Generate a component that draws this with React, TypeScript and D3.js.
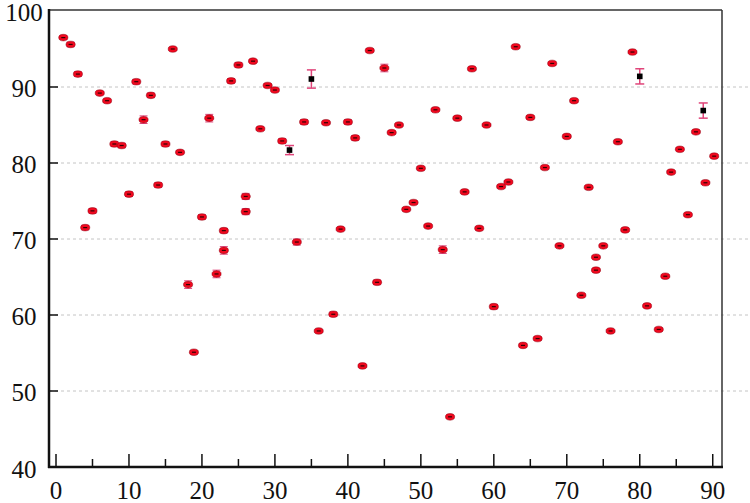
import React from "react";
import * as d3 from "d3";

const redX = [1, 2, 3, 4, 5, 6, 7, 8, 9, 10, 11, 12, 13, 14, 15, 16, 17, 18.1, 18.9, 20, 21, 22, 23, 23, 24, 25, 26, 26, 27, 28, 29, 30, 31, 33, 34, 36, 37, 38, 39, 40, 41, 42, 43, 44, 45, 46, 47, 48, 49, 50, 51, 52, 53, 54, 55, 56, 57, 58, 59, 60, 61, 62, 63, 64, 65, 66, 67, 68, 69, 70, 71, 72, 73, 74, 74, 75, 76, 77, 78, 79, 81, 82.6, 83.5, 84.3, 85.5, 86.6, 87.7, 89, 90.2];
const redY = [96.5, 95.6, 91.7, 71.5, 73.7, 89.2, 88.2, 82.5, 82.3, 75.9, 90.7, 85.7, 88.9, 77.1, 82.5, 95.0, 81.4, 64.0, 55.1, 72.9, 85.9, 65.4, 71.1, 68.5, 90.8, 92.9, 75.6, 73.6, 93.4, 84.5, 90.2, 89.6, 82.9, 69.6, 85.4, 57.9, 85.3, 60.1, 71.3, 85.4, 83.3, 53.3, 94.8, 64.3, 92.5, 84.0, 85.0, 73.9, 74.8, 79.3, 71.7, 87.0, 68.6, 46.6, 85.9, 76.2, 92.4, 71.4, 85.0, 61.1, 76.9, 77.5, 95.3, 56.0, 86.0, 56.9, 79.4, 93.1, 69.1, 83.5, 88.2, 62.6, 76.8, 67.6, 65.9, 69.1, 57.9, 82.8, 71.2, 94.6, 61.2, 58.1, 65.1, 78.8, 81.8, 73.2, 84.1, 77.4, 80.9];
const redErr = [0.2, 0.3, 0.3, 0.3, 0.3, 0.2, 0.2, 0.3, 0.3, 0.3, 0.3, 0.5, 0.3, 0.3, 0.3, 0.2, 0.2, 0.5, 0.2, 0.3, 0.5, 0.5, 0.3, 0.5, 0.3, 0.3, 0.4, 0.4, 0.2, 0.2, 0.2, 0.2, 0.3, 0.4, 0.3, 0.2, 0.2, 0.3, 0.2, 0.3, 0.3, 0.2, 0.2, 0.3, 0.5, 0.2, 0.2, 0.2, 0.2, 0.2, 0.2, 0.2, 0.5, 0.2, 0.2, 0.2, 0.2, 0.2, 0.2, 0.3, 0.2, 0.2, 0.2, 0.2, 0.2, 0.2, 0.2, 0.2, 0.2, 0.2, 0.2, 0.2, 0.2, 0.2, 0.2, 0.2, 0.2, 0.2, 0.2, 0.2, 0.2, 0.2, 0.2, 0.2, 0.2, 0.2, 0.2, 0.2, 0.2];

const blackX = [32, 35, 80, 88.7];
const blackY = [81.7, 91.05, 91.4, 86.9];
const blackErr = [0.6, 1.2, 1.0, 1.0];

const xTicks = [0, 10, 20, 30, 40, 50, 60, 70, 80, 90];
const xMinorTicks = [5, 15, 25, 35, 45, 55, 65, 75, 85];
const yTicks = [40, 50, 60, 70, 80, 90, 100];
const gridValues = [50, 60, 70, 80, 90];

const W = 750;
const H = 503;
const L = 49, R = 722, T = 11, B = 467;

export default function App() {
  const x = d3.scaleLinear().domain([-0.96, 91.27]).range([L, R]);
  const y = d3.scaleLinear().domain([40, 100]).range([B, T]);
  const font = "Liberation Serif, DejaVu Serif, Times New Roman, serif";
  const pink = "#e0457a";

  return (
    <svg width={W} height={H} style={{ position: "absolute", left: 0, top: 0, background: "#fff" }}>
      <rect x={0} y={0} width={W} height={H} fill="#fff" />
      {gridValues.map((v) => (
        <line key={"g" + v} x1={L} x2={W} y1={y(v)} y2={y(v)} stroke="#c4c4c4" strokeWidth={1} strokeDasharray="3,3" />
      ))}
      {/* frame */}
      <line x1={L} x2={R} y1={T - 1} y2={T - 1} stroke="#333" strokeWidth={1.5} />
      <line x1={R} x2={R} y1={T - 1} y2={B} stroke="#333" strokeWidth={1.5} />
      <line x1={L} x2={L} y1={T - 2} y2={B + 1} stroke="#111" strokeWidth={2.5} />
      <line x1={L - 1} x2={R + 1} y1={B} y2={B} stroke="#111" strokeWidth={2.5} />
      {/* x ticks */}
      {xTicks.map((v) => (
        <g key={"xt" + v}>
          <line x1={x(v)} x2={x(v)} y1={B} y2={B - 13} stroke="#111" strokeWidth={1.5} />
          <text x={x(v)} y={490} textAnchor="middle" dominantBaseline="central" style={{ fontFamily: font }} fontSize={25} fill="#111">
            {v}
          </text>
        </g>
      ))}
      {xMinorTicks.map((v) => (
        <line key={"xm" + v} x1={x(v)} x2={x(v)} y1={B} y2={B - 8} stroke="#111" strokeWidth={1.5} />
      ))}
      {/* y ticks */}
      {yTicks.map((v) => (
        <g key={"yt" + v}>
          {v > 40 && v < 100 && <line x1={L} x2={L + 9} y1={y(v)} y2={y(v)} stroke="#111" strokeWidth={1.5} />}
          <text x={24} y={v === 40 ? 469 : y(v) + 1} textAnchor="middle" dominantBaseline="central" style={{ fontFamily: font }} fontSize={25} fill="#111">
            {v}
          </text>
        </g>
      ))}
      {/* red points */}
      {redX.map((vx, i) => {
        const cx = x(vx);
        const cy = y(redY[i]);
        const e1 = y(redY[i] + redErr[i]);
        const e2 = y(redY[i] - redErr[i]);
        return (
          <g key={"r" + i}>
            <line x1={cx} x2={cx} y1={e1} y2={e2} stroke={pink} strokeWidth={1} />
            <line x1={cx - 4} x2={cx + 4} y1={e1} y2={e1} stroke={pink} strokeWidth={1} />
            <line x1={cx - 4} x2={cx + 4} y1={e2} y2={e2} stroke={pink} strokeWidth={1} />
            <ellipse cx={cx} cy={cy} rx={4.6} ry={3.3} fill="#f0081e" stroke="#8a0010" strokeWidth={0.5} />
            <rect x={cx - 2} y={cy - 0.6} width={4} height={1.2} fill="#300" />
          </g>
        );
      })}
      {/* black squares with error bars */}
      {blackX.map((vx, i) => {
        const cx = x(vx);
        const cy = y(blackY[i]);
        const e1 = y(blackY[i] + blackErr[i]);
        const e2 = y(blackY[i] - blackErr[i]);
        return (
          <g key={"b" + i}>
            <line x1={cx} x2={cx} y1={e1} y2={e2} stroke={pink} strokeWidth={1.5} />
            <line x1={cx - 4.5} x2={cx + 4.5} y1={e1} y2={e1} stroke={pink} strokeWidth={1.5} />
            <line x1={cx - 4.5} x2={cx + 4.5} y1={e2} y2={e2} stroke={pink} strokeWidth={1.5} />
            <rect x={cx - 2.8} y={cy - 2.8} width={5.6} height={5.6} fill="#000" />
          </g>
        );
      })}
    </svg>
  );
}
